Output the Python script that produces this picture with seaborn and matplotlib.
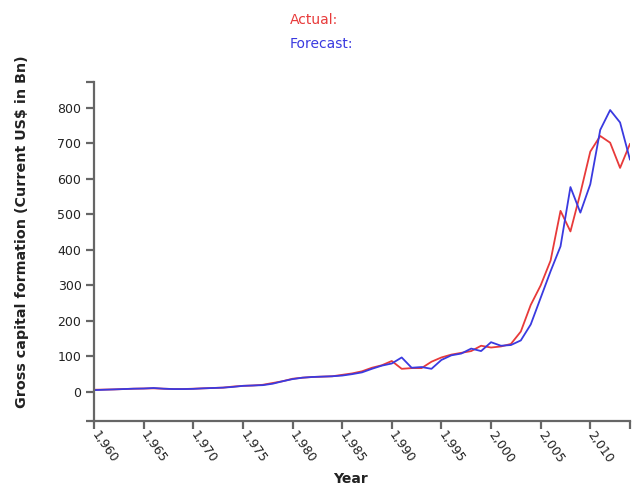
import numpy as np
import pandas as pd
import matplotlib
matplotlib.use("Agg")
import matplotlib.pyplot as plt
from matplotlib.ticker import FuncFormatter
import seaborn as sns

years = list(range(1960, 2015))
actual = [6, 6.5, 7, 8, 9, 9.5, 10, 9, 8, 8,
          9, 10, 11, 12, 15, 17, 18, 20, 25, 30,
          37, 40, 42, 43, 44, 48, 52, 58, 68, 75,
          87, 65, 67, 67, 85, 97, 105, 110, 115, 130,
          125, 128, 135, 170, 245, 300, 370, 510, 452, 560,
          677, 721, 702, 631, 699]
forecast = [5, 6, 7, 8, 9, 9.5, 11, 9, 8, 8,
            8.5, 10, 11, 12, 14, 17, 18, 19, 23, 30,
            36, 40, 42, 43, 44, 46, 50, 55, 65, 74,
            80, 97, 68, 70, 65, 90, 103, 108, 122, 115,
            140, 130, 132, 145, 190, 265, 340, 410, 577, 505,
            585, 738, 794, 759, 654]
x_ticks = list(range(1960, 2011, 5))
y_ticks = list(range(0, 801, 100))
series_names = ["Actual:", "Forecast:"]
colors = ["#e83a3a", "#3a3ae0"]

df = pd.DataFrame({
    "Year": years * 2,
    "Value": actual + forecast,
    "Series": [series_names[0]] * len(years) + [series_names[1]] * len(years),
})

sns.set_style("ticks")
plt.rcParams["font.family"] = ["DejaVu Sans"]

fig = plt.figure(figsize=(6.36, 4.86), dpi=100)
ax = fig.add_axes([94 / 636, 65 / 486, 536 / 636, 339 / 486])

sns.lineplot(data=df, x="Year", y="Value", hue="Series", palette=colors,
             linewidth=1.3, legend=False, ax=ax)

ax.set_xlim(1960, 2014)
ax.set_ylim(-82, 873)
ax.set_xticks(x_ticks)
ax.set_yticks(y_ticks)
ax.set_xticks([2014], minor=True)
ax.set_yticks([-82, 873], minor=True)
ax.xaxis.set_major_formatter(FuncFormatter(lambda v, p: f"{v:,.0f}"))

spine_c = "#666666"
for s in ["top", "right"]:
    ax.spines[s].set_visible(False)
for s in ["left", "bottom"]:
    ax.spines[s].set_color(spine_c)
    ax.spines[s].set_linewidth(1.6)

ax.tick_params(axis="both", which="both", direction="out", length=6, width=1.6,
               color=spine_c, labelsize=9, labelcolor="#222222",
               bottom=True, left=True)
ax.tick_params(axis="y", pad=3)
ax.tick_params(axis="x", pad=2)
for lab in ax.get_xticklabels():
    lab.set_rotation(-55)
    lab.set_rotation_mode("anchor")
    lab.set_ha("left")
    lab.set_va("center")

ax.set_xlabel("")
ax.set_ylabel("")
fig.text(350 / 636, 1 - 479 / 486, "Year", ha="center", va="center",
         fontsize=10, fontweight="bold", color="#222222")
fig.text(22 / 636, 1 - 232 / 486, "Gross capital formation (Current US$ in Bn)",
         rotation=90, ha="center", va="center", fontsize=10.3,
         fontweight="bold", color="#222222")

fig.text(290 / 636, 1 - 20 / 486, series_names[0], color=colors[0],
         fontsize=10, ha="left", va="center")
fig.text(290 / 636, 1 - 44 / 486, series_names[1], color=colors[1],
         fontsize=10, ha="left", va="center")

fig.savefig("out.png", dpi=100, facecolor="white")
